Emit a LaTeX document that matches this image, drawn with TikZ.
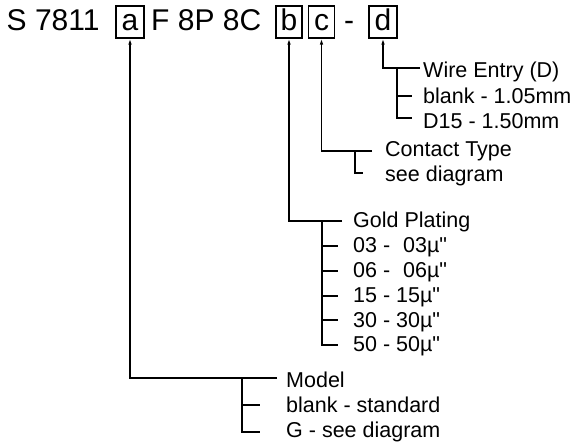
\documentclass[tikz,border=0pt]{standalone}
\usepackage{fontspec}
\setmainfont{Liberation Sans}
\newfontfamily\qfont{Liberation Sans}
\newcommand{\sq}{{\qfont"}}
\usetikzlibrary{arrows.meta}
\begin{document}
\begin{tikzpicture}[x=1pt,y=-1pt,
  ln/.style={line width=1.2pt},
  arr/.style={ln,-{Latex[length=6pt,width=3.6pt]}},
  ttl/.style={font=\fontsize{30}{36}\selectfont,inner sep=0pt,anchor=base west},
  bx/.style={draw,line width=1.2pt,font=\fontsize{30}{36}\selectfont,inner sep=0pt,text height=25pt,text depth=7pt,anchor=base,align=center},
  lbl/.style={font=\fontsize{21.5}{26}\selectfont,inner sep=0pt,anchor=base west}]
\useasboundingbox (0,0) rectangle (578,443);
% title
\node[ttl] (t1) at (6.5,31) {S 7811};
\node[bx,minimum width=28pt] (ba) at (130,31) {a};
\node[ttl] (t2) at (151,31) {F 8P 8C};
\node[bx,minimum width=26pt] (bb) at (289,31) {b};
\node[bx,minimum width=26pt] (bc) at (321.5,31) {c};
\node[ttl,anchor=base] (t3) at (349,31) {-};
\node[bx,minimum width=28pt] (bd) at (383,31) {d};
% wire entry
\node[lbl] (wire) at (423,78) {Wire Entry (D)};
\node[lbl] (w1) at (423,104) {blank - 1.05mm};
\node[lbl] (w2) at (423,129) {D15 - 1.50mm};
\coordinate (dE) at (420,68);
\coordinate (dB) at (397,68);
\coordinate (dT1) at (412,96);
\coordinate (dT2) at (412,118);
\draw[arr] (dE) -| (bd.south);
\draw[ln] (dB) |- (dT2);
\draw[ln] (dB |- dT1) -- (dT1);
% contact type
\node[lbl] (ct) at (385,157) {Contact Type};
\node[lbl] (c1) at (385,182) {see diagram};
\coordinate (cE) at (372,151);
\coordinate (cB) at (355,151);
\coordinate (cT1) at (363,173);
\draw[arr] (cE) -| (bc.south);
\draw[ln] (cB) |- (cT1);
% gold plating
\node[lbl] (gp) at (353,228) {Gold Plating};
\node[lbl] (g1) at (353,253) {03 -\hspace{0.6em}03µ\sq};
\node[lbl] (g2) at (353,278) {06 -\hspace{0.6em}06µ\sq};
\node[lbl] (g3) at (353,303) {15 - 15µ\sq};
\node[lbl] (g4) at (353,328) {30 - 30µ\sq};
\node[lbl] (g5) at (353,352) {50 - 50µ\sq};
\coordinate (gE) at (342,221);
\coordinate (gB) at (322,221);
\coordinate (gT1) at (338,246);
\coordinate (gT2) at (338,271);
\coordinate (gT3) at (338,296);
\coordinate (gT4) at (338,320);
\coordinate (gT5) at (338,345);
\draw[arr] (gE) -| (bb.south);
\draw[ln] (gB) |- (gT5);
\foreach \t in {gT1,gT2,gT3,gT4} \draw[ln] (gB |- \t) -- (\t);
% model
\node[lbl] (md) at (286,388) {Model};
\node[lbl] (m1) at (286,412) {blank - standard};
\node[lbl] (m2) at (286,437) {G - see diagram};
\coordinate (mE) at (277,378);
\coordinate (mB) at (242,378);
\coordinate (mT1) at (260,405);
\coordinate (mT2) at (260,432);
\draw[arr] (mE) -| (ba.south);
\draw[ln] (mB) |- (mT2);
\draw[ln] (mB |- mT1) -- (mT1);
\end{tikzpicture}
\end{document}
